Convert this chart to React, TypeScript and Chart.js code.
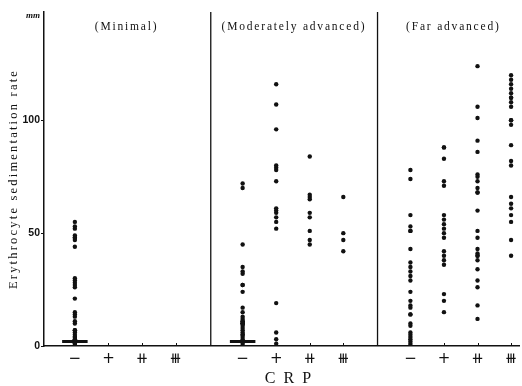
import React, { useEffect, useRef } from 'react';
import { Chart, registerables } from 'chart.js';

Chart.register(...registerables);

// CRP grades (x categories) and disease stages (panels)
const crpLabels = ['−', '+', '⧺', '⧻'];
const stageTitles = ['(Minimal)', '(Moderately advanced)', '(Far advanced)'];
const yTicks = [0, 50, 100];
const yMax = 148;

// Erythrocyte sedimentation rate (mm) per stage and CRP grade
const minimalNeg = [55, 53, 52, 49, 48, 48, 47, 44, 30, 29, 28, 27, 26, 21, 15, 14, 13, 11, 10, 7, 7, 6, 5, 4, 4, 3, 3, 2, 2, 1, 1, 0];
const minimalPlus1: number[] = [];
const minimalPlus2: number[] = [];
const minimalPlus3: number[] = [];

const moderateNeg = [72, 70, 45, 35, 33, 32, 27, 27, 24, 17, 15, 13, 12, 11, 11, 10, 10, 10, 10, 9, 8, 7, 6, 5, 5, 4, 3, 2, 1, 0];
const moderatePlus1 = [116, 107, 96, 80, 79, 78, 73, 61, 60, 59, 57, 55, 52, 19, 6, 3, 1];
const moderatePlus2 = [84, 67, 66, 65, 59, 57, 51, 47, 45];
const moderatePlus3 = [66, 50, 47, 42];

const farNeg = [78, 74, 58, 53, 51, 51, 43, 37, 35, 33, 31, 29, 24, 20, 18, 17, 14, 14, 10, 9, 6, 5, 4, 3, 2, 1, 0, 0];
const farPlus1 = [88, 88, 83, 73, 71, 58, 56, 54, 52, 50, 48, 42, 40, 38, 36, 23, 20, 15];
const farPlus2 = [124, 106, 101, 91, 86, 76, 75, 73, 70, 68, 68, 60, 51, 48, 43, 41, 40, 40, 38, 34, 29, 26, 18, 12];
const farPlus3 = [120, 118, 116, 114, 112, 110, 110, 108, 106, 100, 100, 98, 89, 82, 80, 66, 63, 61, 58, 55, 47, 40];

// dense clusters of overlapping low values (drawn as a short bar)
const denseClusterLevels = [2, 2, null];

const stageSeries = [
  [minimalNeg, minimalPlus1, minimalPlus2, minimalPlus3],
  [moderateNeg, moderatePlus1, moderatePlus2, moderatePlus3],
  [farNeg, farPlus1, farPlus2, farPlus3],
];

const xPos = (stage: number, cat: number) => stage * 5 + cat + 1;

const annotPlugin = {
  id: 'annot',
  afterDraw(chart: any) {
    const { ctx, chartArea, scales } = chart;
    const xs = scales.x;
    ctx.save();
    ctx.fillStyle = '#111';
    ctx.strokeStyle = '#111';
    // tiny tick marks above x axis
    ctx.lineWidth = 1;
    for (let s = 0; s < 3; s++) {
      for (let c = 0; c < 4; c++) {
        const px = Math.round(xs.getPixelForValue(xPos(s, c))) + 0.5;
        ctx.beginPath();
        ctx.moveTo(px, chartArea.bottom);
        ctx.lineTo(px, chartArea.bottom - 3);
        ctx.stroke();
      }
    }
    // panel titles
    ctx.textAlign = 'center';
    ctx.textBaseline = 'middle';
    ctx.font = '11.5px "Liberation Serif"';
    (ctx as any).letterSpacing = '1.8px';
    const titleCenters = [2.54, 7.53, 12.28];
    stageTitles.forEach((t, i) => {
      ctx.fillText(t, xs.getPixelForValue(titleCenters[i]), chartArea.top + 15);
    });
    // unit
    (ctx as any).letterSpacing = '0px';
    ctx.font = 'italic bold 9px "Liberation Serif"';
    ctx.fillText('mm', chartArea.left - 11, chartArea.top + 4);
    // x title
    ctx.font = '16px "Liberation Serif"';
    (ctx as any).letterSpacing = '2px';
    ctx.fillText('C R P', xs.getPixelForValue(7.38), 379);
    // y title
    ctx.font = '12.5px "Liberation Serif"';
    (ctx as any).letterSpacing = '2.2px';
    ctx.translate(14, (chartArea.top + chartArea.bottom) / 2);
    ctx.rotate(-Math.PI / 2);
    ctx.fillText('Erythrocyte sedimentation rate', 0, 0);
    ctx.restore();
  },
};

export default function App() {
  const ref = useRef<HTMLCanvasElement | null>(null);
  useEffect(() => {
    if (!ref.current) return;
    const datasets: any[] = [];
    stageSeries.forEach((series, s) => {
      series.forEach((vals, c) => {
        datasets.push({
          type: 'scatter',
          label: `${stageTitles[s]} ${crpLabels[c]}`,
          data: vals.map((v) => ({ x: xPos(s, c), y: v })),
          pointRadius: 2.2,
          pointBackgroundColor: '#111',
          pointBorderWidth: 0,
          pointHoverRadius: 2.2,
        });
      });
      const lvl = denseClusterLevels[s];
      if (lvl !== null) {
        datasets.push({
          type: 'line',
          label: `cluster ${s}`,
          data: [
            { x: xPos(s, 0) - 0.38, y: lvl },
            { x: xPos(s, 0) + 0.38, y: lvl },
          ],
          borderColor: '#111',
          borderWidth: 3,
          pointRadius: 0,
        });
      }
    });
    [5.05, 10.02].forEach((d) => {
      datasets.push({
        type: 'line',
        label: `divider ${d}`,
        data: [
          { x: d, y: 0 },
          { x: d, y: yMax },
        ],
        borderColor: '#111',
        borderWidth: 1.3,
        pointRadius: 0,
      });
    });

    const chart = new Chart(ref.current, {
      type: 'scatter',
      data: { datasets },
      options: {
        animation: false,
        responsive: false,
        layout: { padding: { top: 12, left: 0, right: 0, bottom: 0 } },
        plugins: { legend: { display: false }, tooltip: { enabled: false }, title: { display: false } },
        scales: {
          x: {
            type: 'linear',
            min: 0.08,
            max: 14.26,
            afterBuildTicks: (axis: any) => {
              const t: any[] = [];
              for (let s = 0; s < 3; s++) for (let c = 0; c < 4; c++) t.push({ value: xPos(s, c) });
              axis.ticks = t;
            },
            afterFit: (axis: any) => {
              axis.height = 40;
            },
            ticks: {
              autoSkip: false,
              maxRotation: 0,
              padding: 4,
              color: '#111',
              font: { family: '"DejaVu Sans"', size: 15 },
              callback: (v: any) => crpLabels[(Math.round(Number(v)) - 1) % 5],
            },
            grid: { display: true, drawOnChartArea: false, drawTicks: false, tickLength: 0 },
            border: { display: true, color: '#111', width: 1.5 },
          },
          y: {
            min: 0,
            max: yMax,
            afterBuildTicks: (axis: any) => {
              axis.ticks = yTicks.map((v) => ({ value: v }));
            },
            afterFit: (axis: any) => {
              axis.width = 44;
            },
            ticks: {
              color: '#111',
              padding: 1,
              font: { family: '"Liberation Sans"', size: 10.5, weight: 'bold' },
            },
            grid: { display: true, drawOnChartArea: false, tickLength: 3, color: '#111' },
            border: { display: true, color: '#111', width: 1.5 },
          },
        },
      },
      plugins: [annotPlugin],
    });
    return () => chart.destroy();
  }, []);

  return (
    <div style={{ position: 'fixed', left: 0, top: 0, width: 522, height: 386, background: '#fff' }}>
      <canvas ref={ref} width={522} height={386} />
    </div>
  );
}
